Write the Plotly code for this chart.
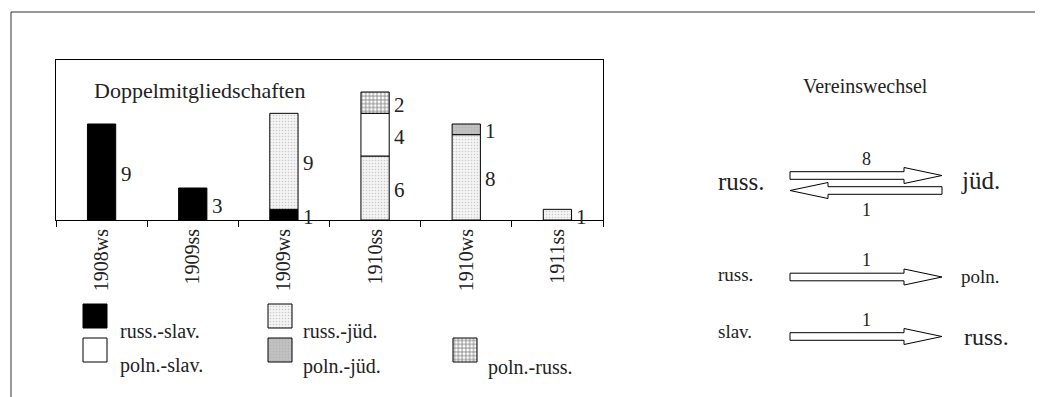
import plotly.graph_objects as go

# ---------------- data ----------------
categories = ["1908ws", "1909ss", "1909ws", "1910ss", "1910ws", "1911ss"]
series_names = ["russ.-slav.", "russ.-jüd.", "poln.-slav.", "poln.-jüd.", "poln.-russ."]
russ_slav = [9, 3, 1, 0, 0, 0]
russ_jued = [0, 0, 9, 6, 8, 1]
poln_slav = [0, 0, 0, 4, 0, 0]
poln_jued = [0, 0, 0, 0, 1, 0]
poln_russ = [0, 0, 0, 2, 0, 0]
series_values = [russ_slav, russ_jued, poln_slav, poln_jued, poln_russ]

chart_title = "Doppelmitgliedschaften"
panel_title = "Vereinswechsel"
transfer_from = ["russ.", "jüd.", "russ.", "slav."]
transfer_to = ["jüd.", "russ.", "poln.", "russ."]
transfer_count = [8, 1, 1, 1]

# ---------------- styles ----------------
OFF = 8                      # page body margin
W, H = 1043 - OFF, 397 - OFF  # figure size
FONT = "'Liberation Serif', 'Times New Roman', 'DejaVu Serif', serif"
TXT = "#222222"
styles = [
    dict(color="#000000", pattern=None),
    dict(color="#f4f4f4", pattern=dict(shape=".", fgcolor="#a0a0a0", size=3, solidity=0.22)),
    dict(color="#ffffff", pattern=None),
    dict(color="#c2c2c2", pattern=dict(shape=".", fgcolor="#a8a8a8", size=3, solidity=0.3)),
    dict(color="#ffffff", pattern=dict(shape="+", fgcolor="#000000", size=3.8, solidity=0.4)),
]

def marker_for(st):
    m = dict(color=st["color"], line=dict(color="#000000", width=1))
    if st["pattern"]:
        m["pattern"] = st["pattern"]
    return m

fig = go.Figure()

# ---------------- stacked bars (manual stacking with base) ----------------
BAR_W = 0.31
cum = [0] * len(categories)
annotations = []
for name, vals, st in zip(series_names, series_values, styles):
    ys, bases, xs = [], [], []
    for i, v in enumerate(vals):
        if v:
            xs.append(i)
            ys.append(v)
            bases.append(cum[i])
            annotations.append(dict(
                x=i, y=cum[i] + v / 2, xref="x", yref="y", text=str(v),
                showarrow=False, xanchor="left", yanchor="middle", xshift=17, yshift=-2,
                font=dict(family=FONT, size=21, color=TXT)))
            cum[i] += v
    fig.add_trace(go.Bar(x=xs, y=ys, base=bases, width=BAR_W, name=name,
                         marker=marker_for(st), showlegend=False, xaxis="x", yaxis="y"))

# ---------------- legend swatches (pixel overlay axis, screen coords) ----------------
legend_pos = [  # (swatch left, swatch top, label x, label y)
    (83, 304, 118, 331),
    (268, 304, 301, 331),
    (83, 338, 118, 365),
    (268, 338, 301, 366),
    (453, 338, 486, 367),
]
SW = 24
for name, st, (sx, sy, lx, ly) in zip(series_names, styles, legend_pos):
    fig.add_trace(go.Bar(x=[sx + SW / 2], y=[SW], base=[sy], width=SW,
                         marker=marker_for(st), showlegend=False,
                         xaxis="x2", yaxis="y2", hoverinfo="skip"))
    annotations.append(dict(x=lx, y=ly, xref="x2", yref="y2", text=name, showarrow=False,
                            xanchor="left", yanchor="middle",
                            font=dict(family=FONT, size=20, color=TXT)))

# ---------------- right panel: transfer arrows ----------------
rows_y = [175.5, 190.5, 277, 336.5]  # arrow centre lines
X0, X1 = 790, 942
HEAD = 38
SH, HH = 3.8, 8
for frm, to, cnt, cy in zip(transfer_from, transfer_to, transfer_count, rows_y):
    right = not (frm == "jüd." and to == "russ.")
    if right:
        xb, xt, xs = X0, X1, X1 - HEAD
    else:
        xb, xt, xs = X1, X0, X0 + HEAD
    px = [xb, xs, xs, xt, xs, xs, xb, xb]
    py = [cy - SH, cy - SH, cy - HH, cy, cy + HH, cy + SH, cy + SH, cy - SH]
    fig.add_trace(go.Scatter(x=px, y=py, mode="lines", fill="toself", fillcolor="white",
                             line=dict(color="#000", width=1), showlegend=False,
                             xaxis="x2", yaxis="y2", hoverinfo="skip"))
    ny = cy - 17 if right else cy + 19
    annotations.append(dict(x=(X0 + X1) / 2, y=ny, xref="x2", yref="y2", text=str(cnt),
                            showarrow=False, font=dict(family=FONT, size=18, color=TXT)))

side_labels = [  # (text, x, y, size)
    (transfer_from[0], 716, 181, 25),
    (transfer_to[0], 959, 180, 25),
    (transfer_from[2], 716, 274, 19),
    (transfer_to[2], 959, 276, 19),
    (transfer_from[3], 716, 331, 19),
    (transfer_to[3], 962, 337, 24),
]
for t, x, y, s in side_labels:
    annotations.append(dict(x=x, y=y, xref="x2", yref="y2", text=t, showarrow=False,
                            xanchor="left", yanchor="middle",
                            font=dict(family=FONT, size=s, color=TXT)))

annotations.append(dict(x=865, y=86, xref="x2", yref="y2", text=panel_title, showarrow=False,
                        font=dict(family=FONT, size=20, color=TXT)))
annotations.append(dict(x=92, y=90, xref="x2", yref="y2", text=chart_title, showarrow=False,
                        xanchor="left", font=dict(family=FONT, size=22, color=TXT)))

# ---------------- layout ----------------
def fx(px):
    return (px - OFF) / W

def fy(py):
    return 1 - (py - OFF) / H

fig.update_layout(
    width=W, height=H, margin=dict(l=0, r=0, t=0, b=0),
    paper_bgcolor="white", plot_bgcolor="rgba(0,0,0,0)",
    font=dict(family=FONT, color=TXT),
    barmode="overlay", annotations=annotations,
    xaxis=dict(domain=[fx(56), fx(603)], range=[-0.5, 5.5],
               tickmode="array", tickvals=list(range(len(categories))), ticktext=categories,
               ticks="", tickangle=-90, showgrid=False, zeroline=False,
               showline=True, mirror=True, linecolor="#000", linewidth=1,
               tickfont=dict(family=FONT, size=20, color=TXT),
               minor=dict(tickmode="array", tickvals=[i - 0.5 for i in range(len(categories) + 1)],
                          ticks="outside", ticklen=6, tickcolor="#000", tickwidth=1, showgrid=False)),
    yaxis=dict(domain=[fy(220), fy(60)], range=[0, 15], showticklabels=False, ticks="",
               showgrid=False, zeroline=False, showline=True, mirror=True,
               linecolor="#000", linewidth=1),
    xaxis2=dict(domain=[0, 1], range=[OFF, OFF + W], visible=False, anchor="y2"),
    yaxis2=dict(domain=[0, 1], range=[OFF + H, OFF], visible=False, anchor="x2"),
    shapes=[
        dict(type="line", xref="paper", yref="paper", x0=fx(11), x1=1, y0=fy(12), y1=fy(12),
             line=dict(color="#333", width=1)),
        dict(type="line", xref="paper", yref="paper", x0=fx(11), x1=fx(11), y0=0, y1=fy(12),
             line=dict(color="#333", width=1)),
    ],
)

fig.write_html("out.html")
